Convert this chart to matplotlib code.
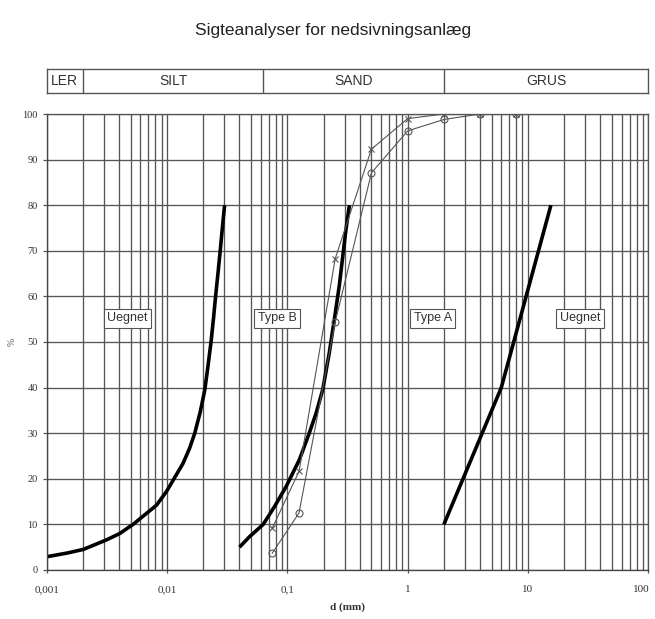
import numpy as np
import matplotlib
matplotlib.use('Agg')
import matplotlib.pyplot as plt
import matplotlib.transforms as mtransforms
from matplotlib import font_manager

# soil fraction limits (mm)
band_edges = [0.001, 0.002, 0.063, 2, 100]
band_names = ['LER', 'SILT', 'SAND', 'GRUS']

# boundary curves (thick)
left_d = [0.001, 0.00147, 0.00201, 0.00314, 0.00405, 0.00522, 0.00653, 0.00817,
          0.00989, 0.0136, 0.0154, 0.0170, 0.0189, 0.0206, 0.0219,
          0.0233, 0.0244, 0.0253, 0.0265, 0.0277, 0.0288, 0.0301]
left_p = [2.9, 3.7, 4.5, 6.6, 8.0, 10, 12.1, 14.2, 17.2, 23.4, 26.7, 30,
          34.7, 39.5, 44.7, 50.4, 55.5, 59.9, 65, 70.1, 74.9, 80]

mid_d = [0.04, 0.0485, 0.063, 0.0782, 0.0977, 0.126, 0.152, 0.173, 0.197, 0.223,
         0.246, 0.27, 0.307, 0.328]
mid_p = [5, 7.3, 10, 13.9, 18.3, 24.2, 30, 34.3, 39.6, 47.6, 55, 62.3, 74.7, 80]

right_d = [2, 6, 15.5]
right_p = [10, 40, 80]

# sieve analyses (thin)
sieve_d = [0.075, 0.125, 0.25, 0.5, 1, 2, 4, 8]
sample_x = [9.2, 21.6, 68.3, 92.3, 99, 100, 100, 100]
sample_o = [3.7, 12.5, 54.4, 87.1, 96.3, 98.8, 100, 100]

# zone labels
zone_names = ['Uegnet', 'Type B', 'Type A', 'Uegnet']
zone_d = [0.0047, 0.082, 1.62, 27]
zone_p = [55.2, 55.2, 55.2, 55.2]

x_ticks = [0.001, 0.01, 0.1, 1, 10, 100]
x_labels = ['0,001', '0,01', '0,1', '1', '10', '100']
y_ticks = list(range(0, 101, 10))

installed = {f.name for f in font_manager.fontManager.ttflist}
narrow = 'Liberation Sans Narrow' if 'Liberation Sans Narrow' in installed else 'Liberation Sans'

grid_col = '#555555'
text_col = '#333333'

fig = plt.figure(figsize=(6.55, 6.19), dpi=100)
ax = fig.add_axes([0.0713, 0.0792, 0.9185, 0.7366])
band = fig.add_axes([0.0713, 0.8493, 0.9185, 0.0392])

fig.text(0.508, 0.950, 'Sigteanalyser for nedsivningsanlæg', ha='center', va='center',
         fontsize=12.5, family=narrow, color='#222222')

# band with fractions
band.set_xscale('log')
band.set_xlim(band_edges[0], band_edges[-1])
band.set_ylim(0, 1)
band.set_xticks([])
band.set_yticks([])
band.minorticks_off()
for e in band_edges[1:-1]:
    band.axvline(e, color=grid_col, lw=1.0)
for i, name in enumerate(band_names):
    xc = np.sqrt(band_edges[i] * band_edges[i + 1])
    band.text(xc, 0.5, name, ha='center', va='center', fontsize=10,
              family=narrow, color=text_col)
for s in band.spines.values():
    s.set_color(grid_col)
    s.set_linewidth(1.0)

# main plot
ax.set_xscale('log')
ax.set_xlim(0.001, 100)
ax.set_ylim(0, 100)
ax.set_xticks(x_ticks)
ax.set_xticklabels(x_labels)
ax.set_yticks(y_ticks)
ax.grid(True, which='both', axis='x', color=grid_col, lw=0.95)
ax.grid(True, which='major', axis='y', color=grid_col, lw=0.95)
ax.tick_params(axis='y', which='major', length=3, width=0.9, color=grid_col,
               labelsize=7.5, labelcolor=text_col, pad=3.4)
ax.tick_params(axis='x', which='major', length=2.5, width=0.9, color=grid_col,
               labelsize=8, labelcolor=text_col, pad=8.3)
ax.tick_params(axis='x', which='minor', length=0)
for lab in ax.get_xticklabels() + ax.get_yticklabels():
    lab.set_family('Liberation Serif')

# keep the last x label inside the figure
shift = mtransforms.ScaledTranslation(-5 / 72, 0, fig.dpi_scale_trans)
for t in ax.xaxis.get_major_ticks()[-1:]:
    t.label1.set_transform(t.label1.get_transform() + shift)

for s in ax.spines.values():
    s.set_color(grid_col)
    s.set_linewidth(0.95)
ax.spines['left'].set_color('#444444')
ax.spines['bottom'].set_color('#444444')

ax.plot(left_d, left_p, color='black', lw=2.6, solid_capstyle='butt')
ax.plot(mid_d, mid_p, color='black', lw=2.6, solid_capstyle='butt')
ax.plot(right_d, right_p, color='black', lw=2.6, solid_capstyle='butt')

ax.plot(sieve_d, sample_x, color='#555555', lw=0.8, marker='x', ms=4.5, mew=0.8)
ax.plot(sieve_d, sample_o, color='#555555', lw=0.8, marker='o', ms=5, mew=0.8,
        mfc='none')

for name, d, p in zip(zone_names, zone_d, zone_p):
    ax.text(d, p, name, ha='center', va='center', fontsize=9, family=narrow,
            color=text_col,
            bbox=dict(boxstyle='square,pad=0.28', fc='white', ec='#555555', lw=0.8))

ax.set_xlabel('d (mm)', family='Liberation Serif', fontweight='bold', fontsize=8,
              color=text_col, labelpad=6)
ax.set_ylabel('%', family='Liberation Serif', fontsize=7, color='#555555', labelpad=4)

fig.savefig('out.png', dpi=100, facecolor='white')
